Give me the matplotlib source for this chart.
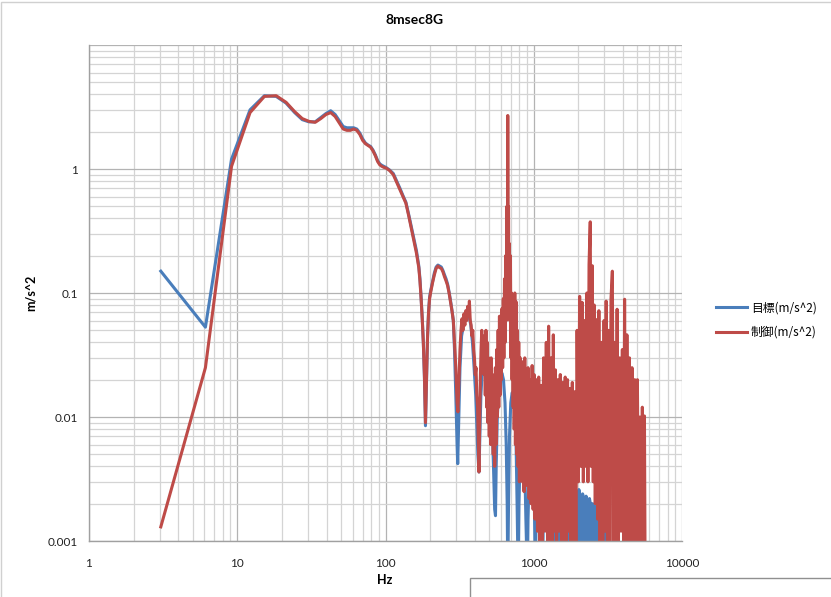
import numpy as np
import matplotlib.pyplot as plt
from matplotlib.ticker import FixedLocator, LogLocator, NullFormatter
from matplotlib.patches import Rectangle

# low band: FFT bins up to ~290 Hz (target and control nearly overlap)
freq_low = [3.05, 6.1, 9.15, 12.2, 15.25, 18.3, 21.35, 24.4, 27.45, 30.5, 33.55,
            36.6, 39.65, 42.7, 45.75, 48.8, 51.85, 54.9, 57.95, 61.0, 64.05, 67.1,
            70.15, 73.2, 76.25, 79.3, 82.35, 85.4, 88.45, 91.5, 94.55, 97.6, 100.65,
            106.75, 112.85, 118.95, 125.05, 131.15, 137.25, 143.35, 149.45, 155.55,
            161.65, 167.75, 170.8, 173.85, 176.9, 179.95, 183.0, 186.05, 189.1,
            192.15, 195.2, 198.25, 201.3, 207.4, 213.5, 219.6, 225.7, 231.8, 237.9,
            244.0, 250.1, 256.2, 262.3, 268.4, 274.5, 280.6, 286.7]
target_low = [0.15, 0.053, 1.2, 3.0, 3.9, 3.85, 3.4, 2.85, 2.5, 2.4, 2.4,
              2.6, 2.8, 2.95, 2.75, 2.45, 2.2, 2.15, 2.15, 2.15, 2.1, 1.95,
              1.75, 1.62, 1.56, 1.52, 1.42, 1.3, 1.17, 1.1, 1.07, 1.05, 1.03,
              0.98, 0.92, 0.8, 0.7, 0.61, 0.54, 0.43, 0.34, 0.27,
              0.22, 0.165, 0.13, 0.092, 0.063, 0.04, 0.021, 0.0085, 0.019,
              0.044, 0.07, 0.092, 0.103, 0.123, 0.145, 0.162, 0.168, 0.165, 0.162,
              0.152, 0.14, 0.13, 0.118, 0.102, 0.087, 0.073, 0.06]
control_low = [0.0013, 0.025, 1.05, 2.85, 3.85, 3.9, 3.45, 2.9, 2.55, 2.42, 2.38,
               2.55, 2.75, 2.85, 2.65, 2.35, 2.1, 2.05, 2.05, 2.1, 2.05, 1.9,
               1.7, 1.6, 1.55, 1.5, 1.4, 1.28, 1.15, 1.08, 1.05, 1.03, 1.02,
               0.97, 0.9, 0.78, 0.68, 0.6, 0.53, 0.42, 0.33, 0.26,
               0.21, 0.16, 0.125, 0.09, 0.062, 0.04, 0.022, 0.009, 0.02,
               0.045, 0.07, 0.09, 0.1, 0.12, 0.14, 0.158, 0.165, 0.16, 0.158,
               0.148, 0.135, 0.125, 0.115, 0.1, 0.085, 0.072, 0.06]

# high band, target (m/s^2): lobes between nulls every ~120 Hz
target_hf_freq = [292, 298, 304, 307, 311, 318, 326, 336, 346, 356, 366, 376, 386,
                  396, 406, 414, 420, 427, 433, 440, 450, 462, 475, 487, 500, 512,
                  524, 535, 545, 552, 558, 568, 580, 595, 610, 625, 640, 652, 662,
                  668, 676, 686, 700, 715, 730, 745, 760, 772, 785, 795, 810, 830,
                  850, 870, 885, 905, 915, 935, 960, 985, 1005, 1025, 1040, 1065,
                  1090, 1120, 1145, 1165, 1190, 1215, 1245, 1265, 1290, 1320, 1350,
                  1385, 1410, 1440, 1470, 1505, 1530, 1565, 1600, 1625, 1650, 1690,
                  1730, 1745, 1775, 1810, 1850, 1865, 1895, 1930, 1970, 1985, 2015,
                  2050, 2090, 2105, 2135, 2170, 2210, 2225, 2255, 2290, 2330, 2345,
                  2375, 2410, 2450, 2465, 2495, 2530, 2570, 2585, 2615, 2650, 2690,
                  2705, 2735, 2770, 2810, 2825, 2855, 2890, 2930, 2945, 2975, 3010,
                  3050, 3065, 3095, 3130, 3170, 3185, 3215, 3250, 3300, 3400]
target_hf = [0.035, 0.015, 0.006, 0.0042, 0.008, 0.025, 0.045, 0.055, 0.062, 0.065,
             0.066, 0.055, 0.04, 0.025, 0.015, 0.008, 0.005, 0.0036, 0.007, 0.015,
             0.024, 0.03, 0.032, 0.03, 0.024, 0.016, 0.009, 0.004, 0.0018, 0.0016,
             0.004, 0.01, 0.017, 0.021, 0.0226, 0.02, 0.013, 0.006, 0.002, 0.0005,
             0.002, 0.007, 0.013, 0.0157, 0.015, 0.011, 0.006, 0.002, 0.0005, 0.002,
             0.005, 0.0069, 0.0065, 0.004, 0.0015, 0.0005, 0.0015, 0.004, 0.0055,
             0.005, 0.003, 0.0005, 0.002, 0.0058, 0.0055, 0.003, 0.0005, 0.002,
             0.0052, 0.0045, 0.0018, 0.0005, 0.0045, 0.0043, 0.002, 0.0005, 0.004,
             0.0036, 0.0015, 0.0005, 0.0036, 0.003, 0.0012, 0.0005, 0.0032, 0.0028,
             0.0008, 0.0005, 0.003, 0.0026, 0.0008, 0.0005, 0.0027, 0.0024, 0.0008,
             0.0005, 0.0026, 0.0023, 0.0008, 0.0005, 0.0024, 0.0022, 0.0008, 0.0005,
             0.0023, 0.0021, 0.0008, 0.0005, 0.0022, 0.002, 0.0008, 0.0005, 0.002,
             0.0019, 0.0008, 0.0005, 0.0019, 0.0018, 0.0008, 0.0005, 0.0017, 0.0016,
             0.0008, 0.0005, 0.0016, 0.0015, 0.0008, 0.0005, 0.0014, 0.0013, 0.0007,
             0.0005, 0.0012, 0.0011, 0.0006, 0.0005, 0.0011, 0.001, 0.0006, 0.0005]

# high band, control (m/s^2): noisy response with resonance spikes
control_hf_freq = [292, 298, 304, 308, 313, 318, 323, 328, 333, 338, 343, 348, 353,
                   358, 363, 368, 373, 378, 383, 388, 393, 398, 403, 408, 413, 418,
                   423, 427, 431, 436, 441, 446, 451, 456, 461, 466, 471, 476, 481,
                   486, 491, 496, 501, 506, 511, 516, 521, 527, 533, 539, 545, 551,
                   557, 563, 569, 575, 581, 587, 593, 599, 605, 611, 617, 623, 629,
                   635, 641, 647, 653, 659, 664, 668, 672, 676, 680, 685, 690, 696,
                   702, 708, 714, 720, 726, 732, 738, 745, 752, 760, 768, 776, 784,
                   792, 800, 810, 820, 830, 840, 850, 860, 870, 880, 890, 900, 915,
                   930, 945, 960, 975, 990, 1005, 1020, 1040, 1060, 1080, 1100, 1120,
                   1140, 1165, 1190, 1215, 1240, 1260, 1285, 1310, 1335, 1355, 1380,
                   1400, 1425, 1450, 1480, 1510, 1540, 1570, 1600, 1630, 1660, 1690,
                   1720, 1750, 1785, 1820, 1855, 1890, 1925, 1960, 2000, 2040, 2080,
                   2120, 2160, 2200, 2240, 2280, 2320, 2360, 2405, 2440, 2480, 2520,
                   2560, 2600, 2650, 2700, 2750, 2800, 2860, 2920, 2980, 3040, 3080,
                   3140, 3200, 3260, 3320, 3390, 3450, 3520, 3580, 3650, 3720, 3800,
                   3880, 3960, 4040, 4100, 4180, 4250, 4330, 4420, 4500, 4600, 4700,
                   4800, 4900, 5000, 5100, 5200, 5300, 5400, 5500, 5580, 5640]
control_hf = [0.04, 0.025, 0.013, 0.011, 0.02, 0.035, 0.05, 0.062, 0.05, 0.068,
              0.055, 0.072, 0.06, 0.078, 0.065, 0.086, 0.06, 0.055, 0.045, 0.05,
              0.035, 0.03, 0.022, 0.025, 0.015, 0.012, 0.006, 0.0036, 0.008, 0.02,
              0.035, 0.05, 0.03, 0.045, 0.022, 0.04, 0.015, 0.05, 0.012, 0.04,
              0.009, 0.03, 0.007, 0.025, 0.006, 0.03, 0.008, 0.022, 0.005, 0.02,
              0.004, 0.025, 0.006, 0.035, 0.01, 0.05, 0.012, 0.065, 0.015, 0.06,
              0.02, 0.075, 0.025, 0.09, 0.03, 0.13, 0.04, 0.2, 0.06, 0.5, 0.12,
              2.7, 0.3, 0.5, 0.1, 0.25, 0.06, 0.2, 0.03, 0.1, 0.02, 0.07, 0.012,
              0.06, 0.008, 0.1, 0.006, 0.085, 0.005, 0.05, 0.004, 0.04, 0.003,
              0.03, 0.0035, 0.028, 0.003, 0.025, 0.0025, 0.03, 0.003, 0.022,
              0.0028, 0.025, 0.0022, 0.02, 0.002, 0.026, 0.0018, 0.022, 0.0015,
              0.02, 0.0012, 0.021, 0.001, 0.018, 0.0008, 0.03, 0.0012, 0.04,
              0.0008, 0.054, 0.001, 0.03, 0.0008, 0.046, 0.0012, 0.024, 0.0007,
              0.02, 0.0012, 0.022, 0.0008, 0.019, 0.001, 0.021, 0.0008, 0.02,
              0.0012, 0.017, 0.0008, 0.019, 0.001, 0.016, 0.0009, 0.05, 0.003,
              0.094, 0.004, 0.084, 0.003, 0.06, 0.004, 0.1, 0.003, 0.17, 0.375,
              0.004, 0.166, 0.003, 0.08, 0.002, 0.061, 0.0015, 0.072, 0.001, 0.04,
              0.0008, 0.06, 0.0012, 0.086, 0.0008, 0.05, 0.001, 0.09, 0.15, 0.0008,
              0.04, 0.001, 0.074, 0.0008, 0.03, 0.0012, 0.035, 0.001, 0.089,
              0.0008, 0.046, 0.001, 0.03, 0.0008, 0.025, 0.001, 0.02, 0.0008,
              0.02, 0.001, 0.01, 0.0008, 0.012, 0.001, 0.0102, 0.0005]

target_f = np.array(freq_low + target_hf_freq)
target_v = np.array(target_low + target_hf)
control_f = np.array(freq_low + control_hf_freq)
control_v = np.array(control_low + control_hf)

fig = plt.figure(figsize=(8.31, 5.97), dpi=100)
ax = fig.add_axes([89 / 831, 1 - 541 / 597, (682 - 89) / 831, (541 - 45) / 597])

ax.plot(target_f, target_v, color='#4a7ebb', lw=2.2, solid_joinstyle='round',
        label='目標(m/s^2)')
ax.plot(control_f, control_v, color='#be4b48', lw=2.2, solid_joinstyle='round',
        label='制御(m/s^2)')

ax.set_xscale('log')
ax.set_yscale('log')
ax.set_xlim(1, 10000)
ax.set_ylim(0.001, 10)

ax.xaxis.set_major_locator(FixedLocator([1, 10, 100, 1000, 10000]))
ax.set_xticklabels(['1', '10', '100', '1000', '10000'])
ax.yaxis.set_major_locator(FixedLocator([0.001, 0.01, 0.1, 1, 10]))
ax.set_yticklabels(['0.001', '0.01', '0.1', '1', ''])
ax.xaxis.set_minor_locator(LogLocator(base=10, subs=np.arange(2, 10)))
ax.yaxis.set_minor_locator(LogLocator(base=10, subs=np.arange(2, 10)))
ax.xaxis.set_minor_formatter(NullFormatter())
ax.yaxis.set_minor_formatter(NullFormatter())

ax.grid(which='major', color='#b3b3b3', lw=0.9)
ax.grid(which='minor', color='#d4d4d4', lw=0.9)
ax.set_axisbelow(True)
ax.tick_params(which='both', length=0, labelsize=8.5, colors='#222222')
ax.tick_params(axis='x', pad=12)
ax.tick_params(axis='y', pad=8)
for lab in ax.get_xticklabels() + ax.get_yticklabels():
    lab.set_family('Lato')
for side in ['top', 'right']:
    ax.spines[side].set_visible(False)
for side in ['left', 'bottom']:
    ax.spines[side].set_color('#a0a0a0')
    ax.spines[side].set_linewidth(1.0)

fig.text(415 / 831, 1 - 20 / 597, '8msec8G', ha='center', va='center',
         fontsize=10, fontweight='bold', family='Lato')
fig.text(385 / 831, 1 - 580 / 597, 'Hz', ha='center', va='center',
         fontsize=9, fontweight='bold', family='Lato')
fig.text(31 / 831, 1 - 293 / 597, 'm/s^2', ha='center', va='center',
         rotation=90, fontsize=9, fontweight='bold', family='Lato')

fig.legend(loc='center left', bbox_to_anchor=(716 / 831, 1 - 320 / 597),
           frameon=False, borderpad=0, borderaxespad=0, handlelength=2.6,
           handletextpad=0.35, labelspacing=1.0,
           prop={'family': ['Noto Sans CJK JP', 'DejaVu Sans'], 'size': 8.5})

# chart area border and the neighbouring box edge at the bottom right
fig.patches.append(Rectangle((1 / 831, -0.01), 1.2, 1 - 2 / 597 + 0.01,
                             transform=fig.transFigure, fill=False,
                             edgecolor='#d0d0d0', lw=1.0))
fig.patches.append(Rectangle((470 / 831, -0.05), 0.6, 0.05 + 1 - 578 / 597,
                             transform=fig.transFigure, fill=False,
                             edgecolor='#909090', lw=1.0))

fig.savefig('out.png', dpi=100)
